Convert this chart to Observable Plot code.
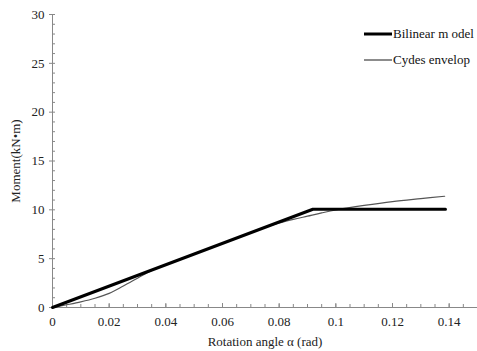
<!DOCTYPE html>
<html><head><meta charset="utf-8">
<script src="https://cdn.jsdelivr.net/npm/d3@7"></script>
<script src="https://cdn.jsdelivr.net/npm/@observablehq/plot@0.6"></script>
<style>
body{margin:0;background:#fff;}
#wrap{position:relative;width:477px;height:351px;overflow:hidden;font-family:"Liberation Serif",serif;}
#wrap svg text{font-family:"Liberation Serif","Times New Roman",serif;}
#legend{position:absolute;left:0;top:0;}
</style></head>
<body><div id="wrap"></div>
<script>
const bilinearX = [0, 0.0919, 0.1387];
const bilinearY = [0, 10.06, 10.06];
const envelopeX = [0, 0.005, 0.01, 0.015, 0.02, 0.025, 0.03, 0.035, 0.04, 0.05, 0.06, 0.07, 0.075, 0.08, 0.085, 0.09, 0.095, 0.1, 0.11, 0.12, 0.13, 0.1384];
const envelopeY = [0, 0.28, 0.58, 0.95, 1.45, 2.2, 3.0, 3.8, 4.4, 5.5, 6.55, 7.65, 8.2, 8.65, 9.02, 9.35, 9.68, 9.98, 10.45, 10.85, 11.15, 11.39];
const xTicks = [0, 0.02, 0.04, 0.06, 0.08, 0.1, 0.12, 0.14];
const xTickLabels = ["0", "0.02", "0.04", "0.06", "0.08", "0.1", "0.12", "0.14"];
const yTicks = [0, 5, 10, 15, 20, 25, 30];
const seriesNames = ["Bilinear m odel", "Cydes envelop"];

const bilinear = bilinearX.map((x, i) => ({x, y: bilinearY[i]}));
const envelope = envelopeX.map((x, i) => ({x, y: envelopeY[i]}));
const xMinor = d3.range(0, 0.1501, 0.005).map(v => +v.toFixed(3));
const yMinor = d3.range(0, 31, 1);
const font = "'Liberation Serif', serif";

const chart = Plot.plot({
  width: 477, height: 351,
  marginLeft: 52, marginRight: 0, marginTop: 14, marginBottom: 44,
  style: {fontFamily: font, fontSize: "13px", color: "#222", background: "#fff"},
  x: {domain: [0, 0.15]},
  y: {domain: [0, 30]},
  marks: [
    Plot.ruleY([0], {stroke: "#888"}),
    Plot.ruleX([0], {stroke: "#888"}),
    Plot.axisX({ticks: xMinor, tickSize: 3, dy: -3, text: null, label: null, stroke: "#888"}),
    Plot.axisX({ticks: xTicks, tickSize: 4, dy: -4, tickFormat: (d, i) => xTickLabels[i], tickPadding: 9, fontSize: 13, fill: "#222",
      label: "Rotation angle α (rad)", labelAnchor: "center", labelArrow: "none", labelOffset: 38, stroke: "#888"}),
    Plot.axisY({ticks: yMinor, tickSize: 3, dx: 3, text: null, label: null, stroke: "#888"}),
    Plot.axisY({ticks: yTicks, tickSize: 3, tickPadding: 5, fontSize: 13, fill: "#222",
      label: "Moment(kN•m)", labelAnchor: "center", labelArrow: "none", labelOffset: 42, stroke: "#888"}),
    Plot.line(envelope, {x: "x", y: "y", stroke: "#555", strokeWidth: 1.2, curve: "catmull-rom"}),
    Plot.line(bilinear, {x: "x", y: "y", stroke: "#000", strokeWidth: 3})
  ]
});
document.getElementById("wrap").appendChild(chart);

const leg = d3.select("#wrap").append("svg").attr("id","legend").attr("width",477).attr("height",351);
const items = [{name: seriesNames[0], stroke:"#000", w:3, y:34}, {name: seriesNames[1], stroke:"#666", w:1.5, y:60}];
items.forEach(it => {
  leg.append("line").attr("x1",364).attr("x2",392).attr("y1",it.y).attr("y2",it.y).attr("stroke",it.stroke).attr("stroke-width",it.w);
  leg.append("text").attr("x",393).attr("y",it.y+4).attr("font-family",font).attr("font-size","13px").attr("fill","#111").text(it.name);
});
</script></body></html>
